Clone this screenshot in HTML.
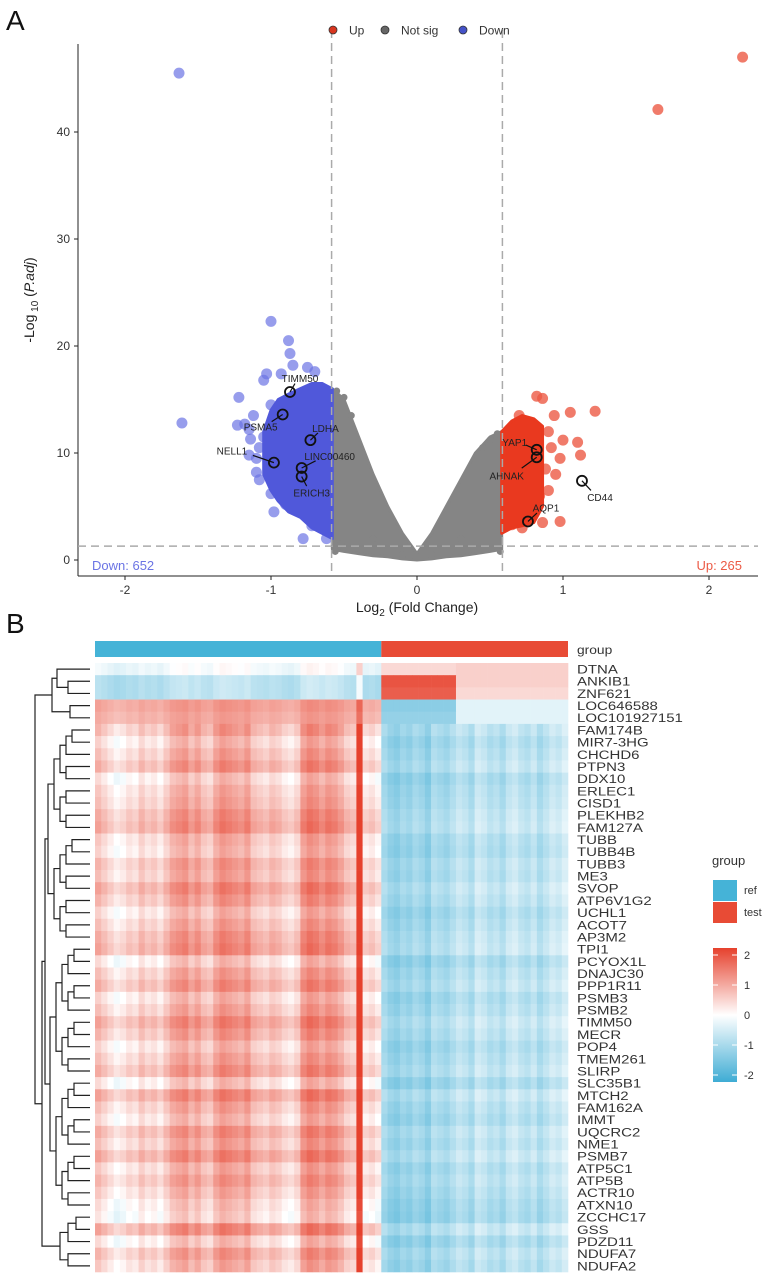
<!DOCTYPE html>
<html><head><meta charset="utf-8"><style>
body{margin:0;background:#fff}
svg{display:block;font-family:"Liberation Sans",Arial,sans-serif}
</style></head><body>
<svg id="fig" width="773" height="1283" viewBox="0 0 773 1283" xmlns="http://www.w3.org/2000/svg">
<text x="6" y="30" font-size="28" fill="#111">A</text>
<text x="6" y="633" font-size="28" fill="#111">B</text>
<g id="volcano"></g>
<g id="heat"></g>
</svg>
<script>
// ---------- Volcano data ----------
const xTicks=[-2,-1,0,1,2];
const yTicks=[0,10,20,30,40];
const grayEnvX=[-0.58,-0.5,-0.4,-0.3,-0.2,-0.1,0,0.1,0.2,0.3,0.4,0.5,0.58];
const grayEnvTop=[16,15,11.5,8,5,2.5,0.6,2.5,5,7.5,10,11.5,12];
const grayEnvBot=[1,0.8,0.6,0.4,0.3,0.1,0,0.1,0.3,0.4,0.6,0.8,1];
const blueEnvX=[-1.05,-1.0,-0.95,-0.88,-0.8,-0.72,-0.65,-0.58];
const blueEnvTop=[12,14,15,15.5,16,16.5,16.5,16];
const blueEnvBot=[8,6.5,5.5,4.5,4,3,2.5,2];
const redEnvX=[0.58,0.65,0.72,0.8,0.86];
const redEnvTop=[12,13,13.5,13.2,12.5];
const redEnvBot=[2.5,3,3.2,3.5,5];
const blueX=[-1.63,-1.61,-1.0,-0.88,-0.87,-0.85,-1.03,-1.05,-1.22,-1.23,-1.15,-1.14,-1.1,-1.0,-0.95,-0.98,-0.75,-0.7,-0.78,-0.62,-1.18,-0.93,-1.08,-0.9,-0.68,-0.8,-1.12,-1.05,-1.02,-1.08,-0.97,-0.9,-0.85,-0.72,-0.66,-1.15,-1.1,-1.0];
const blueY=[45.5,12.8,22.3,20.5,19.3,18.2,17.4,16.8,15.2,12.6,12.2,11.3,9.5,6.2,6.5,4.5,18,17.6,2,2,12.7,17.4,10.5,5.2,3.5,4.8,13.5,11.5,9,7.5,7,6.2,5,3.2,3,9.8,8.2,14.5];
const redX=[2.23,1.65,1.22,1.05,0.94,0.82,0.86,1.1,1.12,0.98,0.95,1.0,0.98,0.86,0.72,0.65,0.9,0.7,0.8,0.92,0.88,0.9,0.84];
const redY=[47,42.1,13.9,13.8,13.5,15.3,15.1,11,9.8,9.5,8,11.2,3.6,3.5,3,3.3,12,13.5,4.5,10.5,8.5,6.5,6];
const grayX=[-0.55,-0.5,-0.45,-0.52,0.55,0.5,0.45,-0.56,0.57,0.3,-0.3,-0.1,0.1];
const grayY=[15.8,15.2,13.5,1.5,11.8,11.2,10.5,0.8,0.8,2,2,0.5,0.5];
const labNames=["TIMM50","PSMA5","LDHA","NELL1","LINC00460","ERICH3","YAP1","AHNAK","CD44","AQP1"];
const labX=[-0.87,-0.92,-0.73,-0.98,-0.79,-0.79,0.82,0.82,1.13,0.76];
const labY=[15.7,13.6,11.2,9.1,8.6,7.8,10.3,9.6,7.4,3.6];
const labDx=[10,-22,15,-42,28,10,-22,-30,18,18];
const labDy=[-14,12,-12,-12,-12,16,-8,18,16,-14];
const downCount="Down: 652", upCount="Up: 265";

const NS="http://www.w3.org/2000/svg";
function mk(tag,attrs,parent){const e=document.createElementNS(NS,tag);for(const k in attrs)e.setAttribute(k,attrs[k]);parent.appendChild(e);return e;}
const V=document.getElementById('volcano');
const X=v=>417+146*v, Y=v=>560-10.7*v;
let ax=mk('line',{x1:78,y1:44,x2:78,y2:576,stroke:'#222','stroke-width':1},V);

ax=mk('line',{x1:78,y1:576,x2:758,y2:576,stroke:'#222','stroke-width':1},V);

xTicks.forEach(t=>{mk('line',{x1:X(t),y1:576,x2:X(t),y2:580,stroke:'#222'},V);
 const tx=mk('text',{x:X(t),y:594,'font-size':12,'text-anchor':'middle',fill:'#333'},V);tx.textContent=t;
 });
yTicks.forEach(t=>{mk('line',{x1:74,y1:Y(t),x2:78,y2:Y(t),stroke:'#222'},V);
 const tx=mk('text',{x:70,y:Y(t)+4,'font-size':12,'text-anchor':'end',fill:'#333'},V);tx.textContent=t;
 });
let t=mk('text',{x:417,y:612,'font-size':14,'text-anchor':'middle',fill:'#222'},V);
t.innerHTML='Log<tspan font-size="10" dy="4">2</tspan><tspan dy="-4"> (Fold Change)</tspan>';

t=mk('text',{x:0,y:0,'font-size':14,'text-anchor':'middle',fill:'#222',transform:'translate(34,300) rotate(-90)'},V);
t.innerHTML='-Log<tspan font-size="10" dy="4"> 10</tspan><tspan dy="-4"> (</tspan><tspan font-style="italic">P.adj</tspan>)';

function area(xs,top,bot,fill,name){let d='M'+xs.map((x,i)=>X(x)+','+Y(top[i])).join('L');
 for(let i=xs.length-1;i>=0;i--)d+='L'+X(xs[i])+','+Y(bot[i]);
 const p=mk('path',{d:d+'Z',fill:fill,stroke:fill,'stroke-width':3,'stroke-linejoin':'round'},V);
 }
area(grayEnvX,grayEnvTop,grayEnvBot,'#858585','not-sig-cloud');
grayX.forEach((x,i)=>{const c=mk('circle',{cx:X(x),cy:Y(grayY[i]),r:3.5,fill:'#858585'},V);
 });
blueX.forEach((x,i)=>{const c=mk('circle',{cx:X(x),cy:Y(blueY[i]),r:5.5,fill:'#6b74e4','fill-opacity':0.7},V);
 });
area(blueEnvX,blueEnvTop,blueEnvBot,'#5058da','down-cloud');
redX.forEach((x,i)=>{const c=mk('circle',{cx:X(x),cy:Y(redY[i]),r:5.5,fill:'#ec5a45','fill-opacity':0.8},V);
 });
area(redEnvX,redEnvTop,redEnvBot,'#e9391f','up-cloud');
[-0.585,0.585].forEach(v=>{const l=mk('line',{x1:X(v),y1:30,x2:X(v),y2:576,stroke:'#aaa','stroke-width':1.5,'stroke-dasharray':'8,5'},V);
 });
let hl=mk('line',{x1:78,y1:Y(1.3),x2:758,y2:Y(1.3),stroke:'#aaa','stroke-width':1.5,'stroke-dasharray':'8,5'},V);

labNames.forEach((n,i)=>{const cx=X(labX[i]),cy=Y(labY[i]);
 mk('line',{x1:cx,y1:cy,x2:cx+labDx[i]*0.5,y2:cy+labDy[i]*0.6,stroke:'#111','stroke-width':1.2},V);
 const c=mk('circle',{cx:cx,cy:cy,r:5,fill:'none',stroke:'#111','stroke-width':1.8},V);
 
 const tx=mk('text',{x:cx+labDx[i],y:cy+labDy[i]+4,'font-size':10,'text-anchor':'middle',fill:'#222'},V);tx.textContent=n;
 });
t=mk('text',{x:92,y:570,'font-size':13,fill:'#6b74e4'},V);t.textContent=downCount;

t=mk('text',{x:742,y:570,'font-size':13,fill:'#ec5a45','text-anchor':'end'},V);t.textContent=upCount;

[['Up','#d8351f',333],['Not sig','#666',385],['Down','#4452c8',463]].forEach(a=>{
 const c=mk('circle',{cx:a[2],cy:30,r:4,fill:a[1],stroke:'#333','stroke-width':0.8},V);
 
 const tx=mk('text',{x:a[2]+16,y:34.5,'font-size':12,fill:'#333'},V);tx.textContent=a[0];
 });

// ---------- Heatmap data ----------
const genes=["DTNA","ANKIB1","ZNF621","LOC646588","LOC101927151","FAM174B","MIR7-3HG","CHCHD6","PTPN3","DDX10","ERLEC1","CISD1","PLEKHB2","FAM127A","TUBB","TUBB4B","TUBB3","ME3","SVOP","ATP6V1G2","UCHL1","ACOT7","AP3M2","TPI1","PCYOX1L","DNAJC30","PPP1R11","PSMB3","PSMB2","TIMM50","MECR","POP4","TMEM261","SLIRP","SLC35B1","MTCH2","FAM162A","IMMT","UQCRC2","NME1","PSMB7","ATP5C1","ATP5B","ACTR10","ATXN10","ZCCHC17","GSS","PDZD11","NDUFA7","NDUFA2"];
const colRef=[0.7,0.5,0.3,0.1,0.2,0.4,0.3,0.6,0.4,0.5,0.3,0.6,0.9,1.0,1.1,0.8,1.0,0.7,0.6,1.0,1.2,1.1,1.0,0.9,1.1,0.7,0.6,0.5,0.7,0.6,0.4,0.3,0.5,1.1,1.3,1.2,1.0,1.2,1.1,0.9,0.6,0.5,2.2,0.3,0.4,0.2];
const colTest=[-0.9,-1.1,-1.2,-1.0,-1.1,-0.9,-1.0,-1.2,-0.8,-0.9,-1.0,-0.8,-0.6,-0.7,-0.9,-0.5,-0.6,-0.8,-0.7,-0.9,-0.6,-0.5,-0.7,-0.8,-0.6,-0.9,-0.7,-0.5,-0.6,-0.4];
const rowShift=[0,0,0,0,0,0.1,-0.2,0,0.2,-0.3,-0.1,0,0.2,0.3,-0.1,-0.2,0.1,0,0.3,0.1,-0.2,0,0.2,0.3,-0.3,0,0.2,-0.2,0,0.3,0.1,-0.2,0,0.2,-0.3,0.3,0,-0.2,0.2,0,0.3,-0.1,0.1,-0.1,-0.3,-0.4,0.3,-0.3,0.1,-0.1];
const specialRef=[-0.1,-0.7,-0.7,1.0,0.9];
const specialTestEarly=[0.4,1.8,1.7,-1.2,-1.1];
const specialTestLate=[0.5,0.5,0.4,-0.3,-0.3];
const groupNames=["ref","test"];

const H=document.getElementById('heat');
const hx0=95,hx1=568,hy0=663,rowH=12.18;
const ncol=colRef.length+colTest.length, cw=(hx1-hx0)/ncol;
function col(v){v=Math.max(-2,Math.min(2,v));const w=[255,255,255];
 const c=v>=0?[230,65,45]:[62,172,212];const f=Math.abs(v)/2;
 return 'rgb('+w.map((x,i)=>Math.round(x+(c[i]-x)*f)).join(',')+')';}
genes.forEach((g,r)=>{
 for(let c=0;c<ncol;c++){let v;
  if(r<5){ if(c<colRef.length) v=specialRef[r]+(colRef[c]-0.7)*0.4;
   else v=(c-colRef.length<12)?specialTestEarly[r]:specialTestLate[r]; }
  else v=c<colRef.length?colRef[c]+rowShift[r]:colTest[c-colRef.length]+rowShift[r]*0.5;
  const rc=mk('rect',{x:hx0+c*cw,y:hy0+r*rowH,width:cw+0.3,height:rowH+0.3,fill:col(v)},H);
  }
 const tx=mk('text',{x:0,y:0,'font-size':12,fill:'#333',transform:`translate(577,${hy0+r*rowH+10.5}) scale(1.25,1)`},H);tx.textContent=g;
 });
let ab=mk('rect',{x:hx0,y:641,width:colRef.length*cw,height:16,fill:'#45b3d7'},H);

ab=mk('rect',{x:hx0+colRef.length*cw,y:641,width:colTest.length*cw,height:16,fill:'#e84b35'},H);

t=mk('text',{x:0,y:0,'font-size':12,fill:'#333',transform:'translate(577,654) scale(1.15,1)'},H);t.textContent='group';

const leafY=r=>hy0+r*rowH+rowH/2;
function node(a,b,h){return {a:a,b:b,h:h};}
function range(a,b,h,step){ if(a===b) return a; const m=Math.floor((a+b)/2);
 return node(range(a,m,h+step,step),range(m+1,b,h+step,step),h);}
const tree=node(node(node(0,node(1,2,68),57),node(3,4,70),52),
 node(node(range(5,22,48,6),range(23,44,50,6),45),range(45,49,60,8),42),35);
function draw(n){ if(typeof n==='number') return {y:leafY(n),x:90};
 const A=draw(n.a),B=draw(n.b);const hx=Math.min(n.h,86);
 mk('path',{d:`M${A.x},${A.y}H${hx}V${B.y}H${B.x}`,fill:'none',stroke:'#222','stroke-width':1.2},H);
 return {y:(A.y+B.y)/2,x:hx};}
draw(tree);
t=mk('text',{x:712,y:865,'font-size':13,fill:'#333'},H);t.textContent='group';

[['#45b3d7',groupNames[0],880],['#e84b35',groupNames[1],902]].forEach(a=>{
 const rc=mk('rect',{x:713,y:a[2],width:24,height:21,fill:a[0]},H);
 
 const tx=mk('text',{x:744,y:a[2]+14,'font-size':11,fill:'#333'},H);tx.textContent=a[1];
 });
const defs=mk('defs',{},H);const lg=mk('linearGradient',{id:'cb',x1:0,y1:0,x2:0,y2:1},defs);
[[0,2],[0.5,0],[1,-2]].forEach(s=>mk('stop',{offset:s[0],'stop-color':col(s[1])},lg));
const cb=mk('rect',{x:713,y:948,width:24,height:134,fill:'url(#cb)'},H);

[2,1,0,-1,-2].forEach((v,i)=>{const y=955+i*30;
 mk('line',{x1:713,y1:y,x2:718,y2:y,stroke:'#fff'},H);mk('line',{x1:732,y1:y,x2:737,y2:y,stroke:'#fff'},H);
 const tx=mk('text',{x:744,y:y+4,'font-size':11,fill:'#333'},H);tx.textContent=v;
 });
</script>
</body></html>
